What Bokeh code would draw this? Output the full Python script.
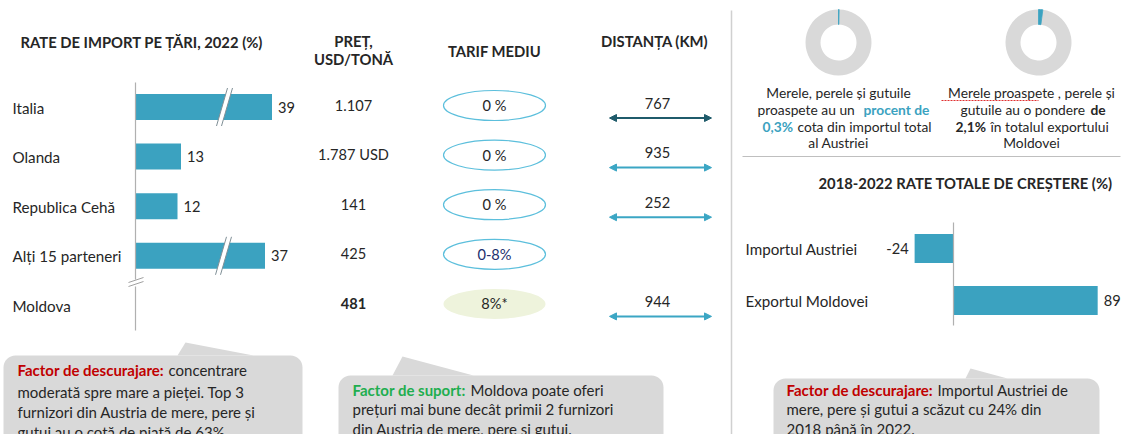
import math
from bokeh.plotting import figure
from bokeh.models import Range1d, ColumnDataSource, Arrow, NormalHead, BoxAnnotation
from bokeh.core.properties import value
from bokeh.embed import file_html
from bokeh.resources import INLINE

# ---------------- data ----------------
countries = ["Italia", "Olanda", "Republica Cehă", "Alți 15 parteneri", "Moldova"]
import_share = [39, 13, 12, 37]            # % of Austria's imports (Moldova: no bar)
price_labels = ["1.107", "1.787 USD", "141", "425", "481"]
tariff_labels = ["0 %", "0 %", "0 %", "0-8%", "8%*"]
distance_km = [767, 935, 252, None, 944]
austria_import_pct = 0.3
moldova_export_pct = 2.1
growth_labels = ["Importul Austriei", "Exportul Moldovei"]
growth_values = [-24, 89]

FONT = "Lato"
TXT = "#262626"
BAR = "#3ba2c0"
W, H = 1121, 434
OX, OY = 0, 0


def fy(py):
    return OY + H - py


p = figure(width=W, height=H, x_range=Range1d(OX, OX + W), y_range=Range1d(0, H),
           output_backend="svg", toolbar_location=None, min_border=0,
           x_axis_location=None, y_axis_location=None)
p.grid.visible = False
p.outline_line_color = None
p.background_fill_color = "white"

SH0, SHK = 135, 3.5
GR0, GRK = 953, 1.62
p.extra_x_ranges = {
    "share": Range1d((OX - SH0) / SHK, (OX + W - SH0) / SHK),
    "growth": Range1d((OX - GR0) / GRK, (OX + W - GR0) / GRK),
}


def txt(x, y, t, size="14.5px", color=TXT, align="left", bold=False, **kw):
    p.text(x=x, y=y, text=t, text_font=value(FONT), text_font_size=size,
           text_color=color, text_align=align, text_baseline="middle",
           text_font_style="bold" if bold else "normal", **kw)


rows = [106.5 + 49.6 * i for i in range(len(countries))]
HS = "14.8px"
LS = "15.2px"
NS = "14.6px"

# ---------------- headers ----------------
txt([20], [fy(41)], ["RATE DE IMPORT PE ȚĂRI, 2022 (%)"], size=HS, bold=True)
txt([353, 353], [fy(40), fy(58)], ["PREȚ,", "USD/TONĂ"], size=HS, bold=True, align="center")
txt([494], [fy(50)], ["TARIF MEDIU"], size=HS, bold=True, align="center")
txt([654], [fy(40)], ["DISTANȚA (KM)"], size=HS, bold=True, align="center")

# ---------------- import share bars ----------------
txt([12] * len(countries), [fy(r + 0.5) for r in rows], countries, size=LS)
bar_src = ColumnDataSource(dict(y=[fy(r) for r in rows[:4]], v=import_share,
                                lab=[str(v) for v in import_share]))
p.hbar(y="y", left=0, right="v", height=26, source=bar_src, x_range_name="share",
       fill_color=BAR, line_color=None)
p.text(x="v", y="y", text="lab", source=bar_src, x_range_name="share", x_offset=6,
       text_font=value(FONT), text_font_size=NS, text_color=TXT,
       text_baseline="middle")
# axis with break
p.segment(x0=[0, 0], x1=[0, 0], y0=[fy(82), fy(286)], y1=[fy(279), fy(330)],
          x_range_name="share", line_color="#b0b0b0", line_width=1.2)
p.segment(x0=[128, 128], x1=[143, 143], y0=[fy(286), fy(282)], y1=[fy(281), fy(277)],
          line_color="#a0a0a0", line_width=1)
# bar break marks on the long bars
for cx, r in [(224, rows[0]), (223, rows[3])]:
    p.patch(x=[cx - 8, cx - 3, cx + 8, cx + 3], y=[fy(r + 19), fy(r + 19), fy(r - 19), fy(r - 19)],
            fill_color="white", line_color=None)
    p.segment(x0=[cx - 8, cx - 3], x1=[cx + 3, cx + 8], y0=[fy(r + 19)] * 2, y1=[fy(r - 19)] * 2,
              line_color="#7f8f96", line_width=1)

# ---------------- price column ----------------
txt([353] * 4, [fy(r - 2) for r in rows[:4]], price_labels[:4], align="center", size=NS)
txt([353], [fy(rows[4] - 2)], price_labels[4:], align="center", bold=True, size=NS)

# ---------------- tariff ellipses ----------------
p.ellipse(x=[494] * 4, y=[fy(r - 1.5) for r in rows[:4]], width=102, height=30,
          fill_color="white", line_color="#5cbfdc", line_width=1.2)
p.ellipse(x=[494], y=[fy(rows[4] - 1.5)], width=102, height=30,
          fill_color="#eef3dc", line_color=None)
t_colors = [TXT, TXT, TXT, "#22306e", TXT]
txt([494] * 5, [fy(r - 1.5) for r in rows], tariff_labels, align="center", color=t_colors, size=NS)

# ---------------- distance arrows ----------------
for i, (d, r) in enumerate(zip(distance_km, rows)):
    if d is None:
        continue
    c = "#1f5b6b" if i == 0 else "#3ba6c4"
    txt([657], [fy(r - 4)], [str(d)], align="center", size=NS)
    p.add_layout(Arrow(x_start=609, y_start=fy(r + 11), x_end=711, y_end=fy(r + 11),
                       line_color=c, line_width=2,
                       start=NormalHead(size=7, fill_color=c, line_color=c),
                       end=NormalHead(size=7, fill_color=c, line_color=c)))

# ---------------- separators ----------------
p.segment(x0=[731], x1=[731], y0=[fy(10)], y1=[fy(440)], line_color="#d0d0d0", line_width=1.5)
p.segment(x0=[742], x1=[1120], y0=[fy(156)], y1=[fy(156)], line_color="#bfbfbf", line_width=1)

# ---------------- donuts ----------------
for cx, pct in [(838, austria_import_pct), (1038, moldova_export_pct)]:
    th = 2 * math.pi * pct / 100
    p.annular_wedge(x=[cx], y=[fy(42)], inner_radius=18, outer_radius=33,
                    inner_radius_units="screen", outer_radius_units="screen",
                    start_angle=math.pi / 2 - th, end_angle=math.pi / 2, direction="clock",
                    fill_color="#d9d9d9", line_color=None)
    p.annular_wedge(x=[cx], y=[fy(42)], inner_radius=18, outer_radius=33,
                    inner_radius_units="screen", outer_radius_units="screen",
                    start_angle=math.pi / 2, end_angle=math.pi / 2 - th, direction="clock",
                    fill_color=BAR, line_color=BAR, line_width=0.8)

DS = "13.8px"
txt([838], [fy(92)], ["Merele, perele și gutuile"], size=DS, align="center")
txt([757], [fy(109)], ["proaspete au un"], size=DS)
txt([863], [fy(109)], ["procent de"], size=DS, bold=True, color=BAR)
txt([762], [fy(126)], ["0,3%"], size=DS, bold=True, color=BAR)
txt([797], [fy(126)], ["cota din importul total"], size=DS)
txt([838], [fy(142)], ["al Austriei"], size=DS, align="center")

txt([1031], [fy(92)], ["Merele proaspete , perele și"], size=DS, align="center")
p.line(x=[941, 1038], y=[fy(100), fy(100)], line_color="#e03030", line_width=1, line_dash="2 1")
txt([960], [fy(109)], ["gutuile au o pondere"], size=DS)
txt([1090], [fy(109)], ["de"], size=DS, bold=True)
txt([955], [fy(126)], ["2,1%"], size=DS, bold=True)
txt([990], [fy(126)], ["în totalul exportului"], size=DS)
txt([1031], [fy(142)], ["Moldovei"], size=DS, align="center")

# ---------------- growth chart ----------------
txt([965], [fy(182)], ["2018-2022 RATE TOTALE DE CREȘTERE (%)"], size=HS, bold=True, align="center")
g_rows = [248, 300]
g_src = ColumnDataSource(dict(y=[fy(r) for r in g_rows], v=growth_values,
                              lab=[str(v) for v in growth_values]))
p.hbar(y="y", left=0, right="v", height=29, source=g_src, x_range_name="growth",
       fill_color=BAR, line_color=None)
p.segment(x0=[0], x1=[0], y0=[fy(222)], y1=[fy(325)], x_range_name="growth",
          line_color="#b0b0b0", line_width=1.2)
txt([745, 745], [fy(r) for r in g_rows], growth_labels, size=LS)
neg = [i for i, v in enumerate(growth_values) if v < 0]
pos = [i for i, v in enumerate(growth_values) if v >= 0]
p.text(x=[growth_values[i] for i in neg], y=[fy(g_rows[i]) for i in neg],
       text=[str(growth_values[i]) for i in neg], x_range_name="growth", x_offset=-6,
       text_align="right", text_baseline="middle", text_font=value(FONT),
       text_font_size=NS, text_color=TXT)
p.text(x=[growth_values[i] for i in pos], y=[fy(g_rows[i]) for i in pos],
       text=[str(growth_values[i]) for i in pos], x_range_name="growth", x_offset=6,
       text_align="left", text_baseline="middle", text_font=value(FONT),
       text_font_size=NS, text_color=TXT)

# ---------------- callouts ----------------
CG = "#d9d9d9"
RED = "#c00000"
GREEN = "#1fae4f"
CS = "15px"
for (l, r, t, tri) in [(3, 302, 355, [(177, 355), (185, 342), (253, 355)]),
                       (338, 663, 375, [(392, 375), (402, 356), (473, 375)]),
                       (773, 1099, 378, [(965, 378), (970, 368), (1007, 378)])]:
    p.add_layout(BoxAnnotation(left=l, right=r, top=fy(t), bottom=fy(470),
                               fill_color=CG, fill_alpha=1, line_color=None,
                               border_radius=12, level="underlay"))
    p.patch(x=[a for a, b in tri], y=[fy(b) for a, b in tri], fill_color=CG, line_color=None)

txt([17], [fy(369)], ["Factor de descurajare:"], size=CS, bold=True, color=RED)
txt([168], [fy(369)], ["concentrare"], size=CS)
txt([17, 17, 17], [fy(391), fy(411), fy(431)],
    ["moderată spre mare a pieței. Top 3", "furnizori din Austria de mere, pere și",
     "gutui au o cotă de piață de 63%."], size=CS)

txt([352], [fy(389)], ["Factor de suport:"], size=CS, bold=True, color=GREEN)
txt([470], [fy(389)], ["Moldova poate oferi"], size=CS)
txt([352, 352], [fy(408), fy(428)],
    ["prețuri mai bune decât primii 2 furnizori", "din Austria de mere, pere și gutui."], size=CS)

txt([786], [fy(389)], ["Factor de descurajare:"], size=CS, bold=True, color=RED)
txt([937], [fy(389)], ["Importul Austriei de"], size=CS)
txt([786, 786], [fy(408), fy(428)],
    ["mere, pere și gutui a scăzut cu 24% din", "2018 până în 2022."], size=CS)

open("out.html", "w").write(file_html(p, INLINE))
